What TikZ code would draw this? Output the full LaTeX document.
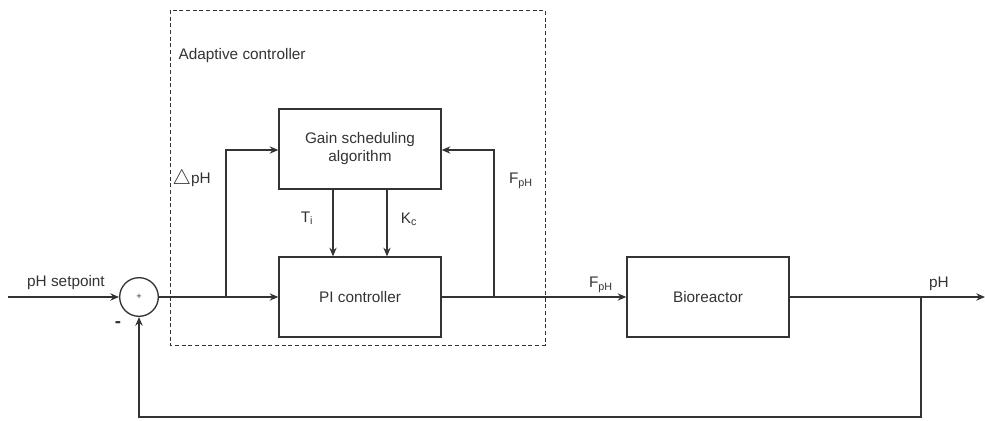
\documentclass[tikz,border=0pt]{standalone}
\usepackage{fontspec}
\setmainfont{Liberation Sans}
\usetikzlibrary{arrows.meta}
\definecolor{ink}{HTML}{333333}
\begin{document}
\begin{tikzpicture}[x=0.75pt,y=-0.75pt,
  every node/.style={font=\fontsize{11.5}{13.5}\selectfont, text=ink},
  blockbox/.style={draw=ink, line width=1pt, minimum width=121.5pt, minimum height=60pt, align=center, inner sep=0pt},
  sumnode/.style={draw=ink, line width=1pt, circle, minimum size=29pt, inner sep=0pt},
  conn/.style={draw=ink, line width=1pt},
  arr/.style={conn, -{Stealth[length=6.5pt,width=5.5pt]}},
  lbl/.style={inner sep=1pt}]
\useasboundingbox (0,0) rectangle (985,421);
% dashed container
\draw[ink, line width=0.75pt, dash pattern=on 3pt off 2pt] (170,10) rectangle (545,345);
\node[lbl, anchor=west] (title) at (177,56) {Adaptive controller};
% blocks
\node[blockbox] (gain) at (360,149) {Gain scheduling\\algorithm};
\node[blockbox] (pi) at (360,297) {PI controller};
\node[blockbox] (bio) at (708,297) {Bioreactor};
\node[sumnode] (sum) at (139,297) {\fontsize{7}{7}\selectfont +};
% coordinates
\coordinate (in) at (8,297);
\coordinate (out) at (985,297);
\coordinate (b1) at (226,297);
\coordinate (b1t) at (226,150);
\coordinate (b2) at (494,297);
\coordinate (b2t) at (494,150);
\coordinate (b3) at (921,297);
\coordinate (fb1) at (921,417);
\coordinate (fb2) at (139,417);
% connectors
\draw[arr] (in) -- (sum.west);
\draw[arr] (sum.east) -- (pi.west);
\draw[arr] (b1) -- (b1t) -- (gain.west |- b1t);
\draw[arr] (gain.south -| 333,0) -- (pi.north -| 333,0);
\draw[arr] (gain.south -| 387,0) -- (pi.north -| 387,0);
\draw[arr] (pi.east) -- (bio.west);
\draw[arr] (b2) -- (b2t) -- (gain.east |- b2t);
\draw[arr] (bio.east) -- (out);
\draw[arr] (b3) -- (fb1) -- (fb2) -- (sum.south);
% labels
\node[lbl] (lsp) at (66,283) {pH setpoint};
\node[lbl] (lminus) at (118,325) {\fontsize{14}{14}\selectfont\textbf{-}};
\node[lbl, anchor=west] (ldph) at (171,179) {\raisebox{-0.5pt}{\scalebox{1.3}{$\bigtriangleup$}}pH};
\node[lbl] (lti) at (307,218) {T\textsubscript{i}};
\node[lbl] (lkc) at (409,219) {K\textsubscript{c}};
\node[lbl] (lfph1) at (521,181) {F\textsubscript{pH}};
\node[lbl] (lfph2) at (601,285) {F\textsubscript{pH}};
\node[lbl] (lph) at (939,284) {pH};
\end{tikzpicture}
\end{document}
